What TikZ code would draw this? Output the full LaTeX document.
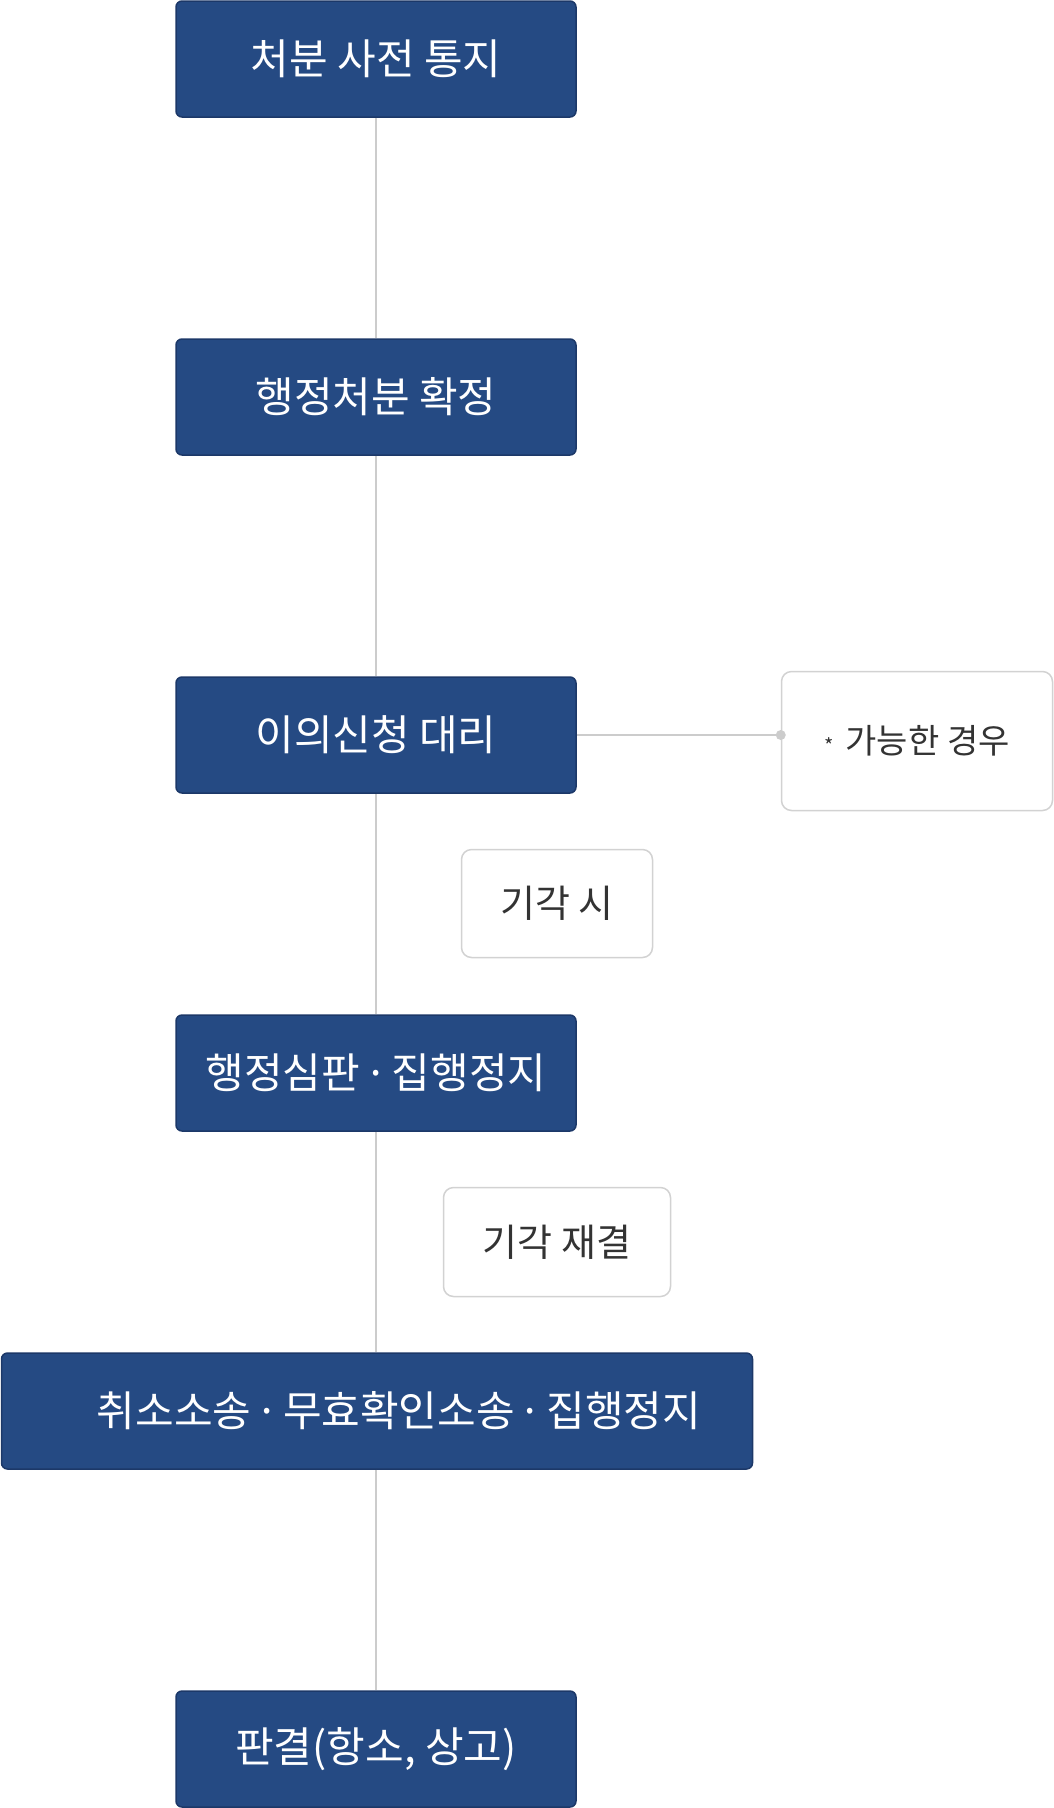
\documentclass[tikz,border=0pt]{standalone}
\usepackage{fontspec}
\setmainfont{Noto Sans CJK KR}
\definecolor{boxfill}{HTML}{254A83}
\definecolor{boxline}{HTML}{1C3868}
\definecolor{conn}{HTML}{CCCCCC}
\definecolor{noteline}{HTML}{D2D2D2}
\definecolor{notetext}{HTML}{333333}
\newcommand{\mdot}{\hspace{4pt}·\hspace{4pt}}
\tikzset{
  stagebox/.style={draw=boxline, line width=1.5pt, fill=boxfill, rounded corners=6pt,
    minimum width=400pt, minimum height=116pt, inner sep=0pt, text=white,
    font=\fontsize{42}{50}\selectfont},
  notebox/.style={draw=noteline, line width=1.5pt, fill=white, rounded corners=10pt,
    inner sep=0pt, text=notetext, font=\fontsize{38}{44}\selectfont},
  link/.style={draw=conn, line width=1.5pt}
}
\begin{document}
\begin{tikzpicture}[x=1pt,y=-1pt]
\useasboundingbox (0,0) rectangle (1054,1808);
\node[stagebox] (s1) at (376,59) {처분 사전 통지};
\node[stagebox] (s2) at (376,397) {행정처분 확정};
\node[stagebox] (s3) at (376,735) {이의신청 대리};
\node[stagebox] (s4) at (376,1073) {행정심판\mdot 집행정지};
\node[stagebox, minimum width=751pt] (s5) at (377,1411) {\hspace*{44pt}취소소송\mdot 무효확인소송\mdot 집행정지};
\node[stagebox] (s6) at (376,1749) {판결(항소, 상고)};
\node[notebox, minimum width=271pt, minimum height=139pt, font=\fontsize{34}{40}\selectfont] (n1) at (917,741) {{\fontsize{20}{20}\selectfont *}\hspace{12pt}가능한 경우};
\node[notebox, minimum width=191pt, minimum height=108pt] (n2) at (557,903.5) {기각 시};
\node[notebox, minimum width=227pt, minimum height=109pt] (n3) at (557,1242) {기각 재결};
\coordinate (dot) at (n1.west |- s3.east);
\draw[link] (s1.south) -- (s2.north);
\draw[link] (s2.south) -- (s3.north);
\draw[link] (s3.south) -- (s4.north);
\draw[link] (s4.south) -- (s5.north -| s4.south);
\draw[link] (s5.south -| s6.north) -- (s6.north);
\draw[link] (s3.east) -- (dot);
\fill[conn] (dot) circle (5pt);
\end{tikzpicture}
\end{document}
